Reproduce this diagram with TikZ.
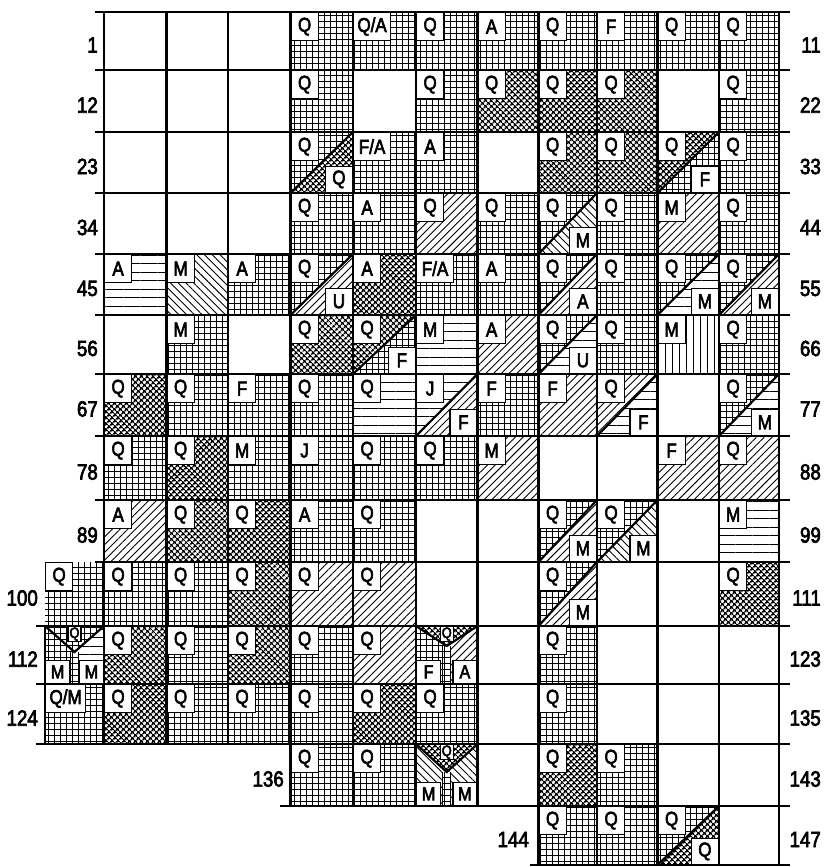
\documentclass[tikz,border=0pt]{standalone}
\usepackage{fontspec}
\setmainfont{Liberation Sans}
\newfontfamily\labfont[FakeStretch=0.85,FakeBold=3]{Liberation Sans}
\usetikzlibrary{patterns.meta}

\def\XS{{45,104,166.5,228,290.5,353,416,477.5,538.5,597,657.5,719,779}}
\def\YS{{12,70,132,193,254,315,374,436,500,562,626,684,744,806,865}}

\tikzset{
  pg/.style={pattern={Hatch[angle=0,distance=6pt,line width=0.95pt]}},
  pc/.style={pattern={Hatch[angle=45,distance=4pt,line width=1.6pt]}},
  pd/.style={pattern={Lines[angle=45,distance=5.5pt,line width=0.9pt]}},
  pn/.style={pattern={Lines[angle=-45,distance=5.5pt,line width=0.9pt]}},
  ph/.style={pattern={Lines[angle=0,distance=8.5pt,line width=0.9pt]}},
  pv/.style={pattern={Lines[angle=90,distance=7pt,line width=0.9pt]}},
  pe/.style={},
  lab/.style={draw,line width=1.2pt,fill=white,minimum width=27pt,minimum height=28pt,
    inner sep=1.5pt,font=\labfont\fontsize{20}{20}\selectfont},
  mlab/.style={draw,line width=1.2pt,fill=white,minimum width=24pt,minimum height=23pt,
    inner sep=1pt,font=\labfont\fontsize{19}{19}\selectfont},
  tlab/.style={draw,line width=1.2pt,fill=white,minimum width=13pt,minimum height=15pt,
    inner sep=0.5pt,font=\labfont\fontsize{15}{15}\selectfont},
  numlab/.style={inner sep=0pt,font=\labfont\fontsize{22}{22}\selectfont},
  dline/.style={line width=2.2pt},
  sline/.style={line width=1.2pt},
  gl/.style={line width=2.8pt},
}

\newcommand\cellget[2]{%
  \pgfmathtruncatemacro\cn{#1+1}%
  \pgfmathtruncatemacro\rp{#2-1}%
  \pgfmathsetmacro\xa{\XS[#1]}%
  \pgfmathsetmacro\xb{\XS[\cn]}%
  \pgfmathsetmacro\ya{\YS[\rp]}%
  \pgfmathsetmacro\yb{\YS[#2]}%
}
% full cell: [opts]{col}{row}{pattern}{label}
\newcommand\cellF[5][]{%
  \cellget{#2}{#3}%
  \path[#4] (\xa,\ya) rectangle (\xb,\yb);
  \ifx\relax#5\relax\else
    \node[lab,anchor=north west,#1] (L#2-#3) at (\xa,\ya) {#5};
  \fi
}
% split cell: {col}{row}{patUL}{labUL}{patLR}{labLR}
\newcommand\cellS[6]{%
  \cellget{#1}{#2}%
  \path[#3] (\xa,\ya) -- (\xb,\ya) -- (\xa,\yb) -- cycle;
  \path[#5] (\xb,\ya) -- (\xb,\yb) -- (\xa,\yb) -- cycle;
  \draw[dline] (\xa,\yb) -- (\xb,\ya);
  \node[lab,anchor=north west] (L#1-#2) at (\xa,\ya) {#4};
  \node[lab,anchor=south east,minimum height=26pt] (R#1-#2) at (\xb,\yb) {#6};
}
% Y cell: {col}{row}{patTop}{labTop}{patL}{labL}{patR}{labR}{apex depth}
\newcommand\cellY[9]{%
  \cellget{#1}{#2}%
  \pgfmathsetmacro\xm{(\xa+\xb)/2}%
  \pgfmathsetmacro\yv{\ya+#9}%
  \pgfmathsetmacro\sl{\xm-4}%
  \pgfmathsetmacro\sr{\xm+4}%
  \path[#3] (\xa,\ya) -- (\xb,\ya) -- (\xm,\yv) -- cycle;
  \path[#5] (\xa,\ya) -- (\xm,\yv) -- (\xm,\yb) -- (\xa,\yb) -- cycle;
  \path[#7] (\xb,\ya) -- (\xm,\yv) -- (\xm,\yb) -- (\xb,\yb) -- cycle;
  \fill[white] (\sl,\yv) rectangle (\sr,\yb);
  \path[pg] (\sl,\yv) rectangle (\sr,\yb);
  \draw[dline] (\xa,\ya) -- (\xm,\yv) -- (\xb,\ya);
  \draw[sline] (\sl,\yv) -- (\sl,\yb) (\sr,\yv) -- (\sr,\yb);
  \node[tlab,anchor=north] (T#1-#2) at (\xm,\ya) {#4};
  \node[mlab,anchor=south west] (A#1-#2) at (\xa,\yb) {#6};
  \node[mlab,anchor=south east] (B#1-#2) at (\xb,\yb) {#8};
}
% row number: {name}{x}{row}{text}
\newcommand\rowlab[4]{%
  \pgfmathtruncatemacro\rp{#3-1}%
  \pgfmathsetmacro\ya{\YS[\rp]}%
  \pgfmathsetmacro\yb{\YS[#3]}%
  \pgfmathsetmacro\yc{(\ya+\yb)/2+4}%
  \node[numlab,anchor=east] (#1) at (#2,\yc) {#4};
}

\begin{document}
\begin{tikzpicture}[x=1pt,y=-1pt]
\useasboundingbox (0,0) rectangle (826,867);
\fill[white] (0,0) rectangle (826,867);

% Row 1
\cellF{4}{1}{pg}{Q}
\cellF[minimum width=37pt]{5}{1}{pg}{Q/A}
\cellF{6}{1}{pg}{Q}
\cellF{7}{1}{pg}{A}
\cellF{8}{1}{pg}{Q}
\cellF{9}{1}{pg}{F}
\cellF{10}{1}{pg}{Q}
\cellF{11}{1}{pg}{Q}
% Row 2
\cellF{4}{2}{pg}{Q}
\cellF{6}{2}{pg}{Q}
\cellF{7}{2}{pc}{Q}
\cellF{8}{2}{pc}{Q}
\cellF{9}{2}{pc}{Q}
\cellF{11}{2}{pg}{Q}
% Row 3
\cellS{4}{3}{pg}{Q}{pc}{Q}
\cellF[minimum width=37pt]{5}{3}{pg}{F/A}
\cellF{6}{3}{pg}{A}
\cellF{8}{3}{pc}{Q}
\cellF{9}{3}{pc}{Q}
\cellS{10}{3}{pc}{Q}{pg}{F}
\cellF{11}{3}{pg}{Q}
% Row 4
\cellF{4}{4}{pg}{Q}
\cellF{5}{4}{pg}{A}
\cellF{6}{4}{pd}{Q}
\cellF{7}{4}{pg}{Q}
\cellS{8}{4}{pg}{Q}{pn}{M}
\cellF{9}{4}{pg}{Q}
\cellF{10}{4}{pd}{M}
\cellF{11}{4}{pg}{Q}
% Row 5
\cellF{1}{5}{ph}{A}
\cellF{2}{5}{pn}{M}
\cellF{3}{5}{pg}{A}
\cellS{4}{5}{pg}{Q}{pd}{U}
\cellF{5}{5}{pc}{A}
\cellF[minimum width=37pt]{6}{5}{pg}{F/A}
\cellF{7}{5}{pg}{A}
\cellS{8}{5}{pg}{Q}{pd}{A}
\cellF{9}{5}{pg}{Q}
\cellS{10}{5}{pg}{Q}{ph}{M}
\cellS{11}{5}{pg}{Q}{pd}{M}
% Row 6
\cellF{2}{6}{pg}{M}
\cellF{4}{6}{pc}{Q}
\cellS{5}{6}{pc}{Q}{pg}{F}
\cellF{6}{6}{ph}{M}
\cellF{7}{6}{pd}{A}
\cellS{8}{6}{pg}{Q}{ph}{U}
\cellF{9}{6}{pg}{Q}
\cellF{10}{6}{pv}{M}
\cellF{11}{6}{pg}{Q}
% Row 7
\cellF{1}{7}{pc}{Q}
\cellF{2}{7}{pg}{Q}
\cellF{3}{7}{pg}{F}
\cellF{4}{7}{pg}{Q}
\cellF{5}{7}{ph}{Q}
\cellS{6}{7}{ph}{J}{pd}{F}
\cellF{7}{7}{pg}{F}
\cellF{8}{7}{pd}{F}
\cellS{9}{7}{pd}{Q}{ph}{F}
\cellS{11}{7}{pg}{Q}{ph}{M}
% Row 8
\cellF{1}{8}{pg}{Q}
\cellF{2}{8}{pc}{Q}
\cellF{3}{8}{pg}{M}
\cellF{4}{8}{pg}{J}
\cellF{5}{8}{pg}{Q}
\cellF{6}{8}{pg}{Q}
\cellF{7}{8}{pd}{M}
\cellF{10}{8}{pd}{F}
\cellF{11}{8}{pd}{Q}
% Row 9
\cellF{1}{9}{pd}{A}
\cellF{2}{9}{pc}{Q}
\cellF{3}{9}{pc}{Q}
\cellF{4}{9}{pg}{A}
\cellF{5}{9}{pg}{Q}
\cellS{8}{9}{pg}{Q}{pd}{M}
\cellS{9}{9}{pg}{Q}{pn}{M}
\cellF{11}{9}{ph}{M}
% Row 10
\cellF{0}{10}{pg}{Q}
\cellF{1}{10}{pg}{Q}
\cellF{2}{10}{pg}{Q}
\cellF{3}{10}{pc}{Q}
\cellF{4}{10}{pd}{Q}
\cellF{5}{10}{pd}{Q}
\cellS{8}{10}{pg}{Q}{pd}{M}
\cellF{11}{10}{pc}{Q}
% Row 11
\cellY{0}{11}{pg}{Q}{pg}{M}{ph}{M}{26}
\cellF{1}{11}{pc}{Q}
\cellF{2}{11}{pg}{Q}
\cellF{3}{11}{pc}{Q}
\cellF{4}{11}{pg}{Q}
\cellF{5}{11}{pd}{Q}
\cellY{6}{11}{pc}{Q}{pg}{F}{pd}{A}{20}
\cellF{8}{11}{pg}{Q}
% Row 12
\cellF[minimum width=40pt]{0}{12}{pg}{Q/M}
\cellF{1}{12}{pc}{Q}
\cellF{2}{12}{pg}{Q}
\cellF{3}{12}{pg}{Q}
\cellF{4}{12}{pg}{Q}
\cellF{5}{12}{pc}{Q}
\cellF{6}{12}{pg}{Q}
\cellF{8}{12}{pg}{Q}
% Row 13
\cellF{4}{13}{pg}{Q}
\cellF{5}{13}{pg}{Q}
\cellY{6}{13}{pc}{Q}{pn}{M}{pn}{M}{28}
\cellF{8}{13}{pc}{Q}
\cellF{9}{13}{pg}{Q}
% Row 14
\cellF{8}{14}{pg}{Q}
\cellF{9}{14}{pg}{Q}
\cellS{10}{14}{pg}{Q}{pc}{Q}

% grid lines
\foreach \y in {12,70,132,193,254,315,374,436,500,562}
  \draw[gl] (95,\y) -- (790,\y);
\foreach \y in {626,684,744}
  \draw[gl] (36,\y) -- (790,\y);
\draw[gl] (280,806) -- (790,806);
\draw[gl] (530,865) -- (790,865);
\draw[gl] (45,626) -- (45,744);
\foreach \x in {104,166.5,228}
  \draw[gl] (\x,12) -- (\x,744);
\foreach \x in {290.5,353,416,477.5}
  \draw[gl] (\x,12) -- (\x,806);
\foreach \x in {538.5,597,657.5,719,779}
  \draw[gl] (\x,12) -- (\x,865);

% row numbers left
\rowlab{nl1}{98}{1}{1}
\rowlab{nl2}{98}{2}{12}
\rowlab{nl3}{98}{3}{23}
\rowlab{nl4}{98}{4}{34}
\rowlab{nl5}{98}{5}{45}
\rowlab{nl6}{98}{6}{56}
\rowlab{nl7}{98}{7}{67}
\rowlab{nl8}{98}{8}{78}
\rowlab{nl9}{98}{9}{89}
\rowlab{nl10}{38}{10}{100}
\rowlab{nl11}{38}{11}{112}
\rowlab{nl12}{38}{12}{124}
\rowlab{nl13}{284}{13}{136}
\rowlab{nl14}{529}{14}{144}
% row numbers right
\rowlab{nr1}{821}{1}{11}
\rowlab{nr2}{821}{2}{22}
\rowlab{nr3}{821}{3}{33}
\rowlab{nr4}{821}{4}{44}
\rowlab{nr5}{821}{5}{55}
\rowlab{nr6}{821}{6}{66}
\rowlab{nr7}{821}{7}{77}
\rowlab{nr8}{821}{8}{88}
\rowlab{nr9}{821}{9}{99}
\rowlab{nr10}{821}{10}{111}
\rowlab{nr11}{821}{11}{123}
\rowlab{nr12}{821}{12}{135}
\rowlab{nr13}{821}{13}{143}
\rowlab{nr14}{821}{14}{147}
\end{tikzpicture}
\end{document}
